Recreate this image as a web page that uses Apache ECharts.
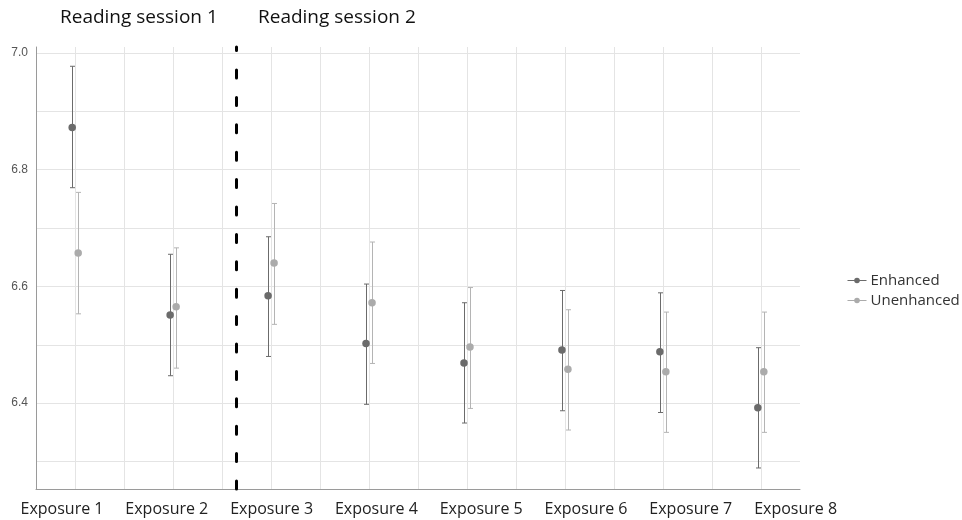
<!DOCTYPE html>
<html>
<head>
<meta charset="utf-8">
<script src="https://cdn.jsdelivr.net/npm/echarts@6/dist/echarts.min.js"></script>
<style>
  html, body { margin: 0; padding: 0; background: #fff; }
  #chart { width: 962px; height: 520px; }
</style>
</head>
<body>
<div id="chart"></div>
<script>
// 数据
var exposures = ['Exposure 1', 'Exposure 2', 'Exposure 3', 'Exposure 4',
  'Exposure 5', 'Exposure 6', 'Exposure 7', 'Exposure 8'];
var sessions = ['Reading session 1', 'Reading session 2'];

var enhMean = [6.872, 6.551, 6.584, 6.502, 6.469, 6.491, 6.488, 6.392];
var enhLow  = [6.769, 6.447, 6.480, 6.398, 6.366, 6.387, 6.384, 6.289];
var enhHigh = [6.977, 6.655, 6.685, 6.604, 6.572, 6.593, 6.589, 6.495];

var unMean = [6.657, 6.565, 6.640, 6.572, 6.496, 6.458, 6.454, 6.454];
var unLow  = [6.553, 6.460, 6.535, 6.468, 6.391, 6.354, 6.350, 6.350];
var unHigh = [6.761, 6.666, 6.742, 6.676, 6.598, 6.560, 6.556, 6.556];

// session 1 / session 2 分界（在 Exposure 2 与 3 之间）
var sessionBreak = 2.64;

var ENH_COLOR = '#6b6b6b';
var UN_COLOR = '#ababab';

function points(mean) {
  return mean.map(function (v, i) { return [i + 1, v]; });
}
function ranges(low, high) {
  return low.map(function (v, i) { return [i + 1, v, high[i]]; });
}

// 误差线
function errorBar(offset, color) {
  return function (params, api) {
    var x = api.value(0);
    var lo = api.coord([x, api.value(1)]);
    var hi = api.coord([x, api.value(2)]);
    var px = Math.round(lo[0] + offset) + 0.5;
    var cap = 2.5;
    var st = { stroke: color, lineWidth: 1 };
    return {
      type: 'group',
      children: [
        { type: 'line', shape: { x1: px, y1: hi[1], x2: px, y2: lo[1] }, style: st },
        { type: 'line', shape: { x1: px - cap, y1: hi[1], x2: px + cap, y2: hi[1] }, style: st },
        { type: 'line', shape: { x1: px - cap, y1: lo[1], x2: px + cap, y2: lo[1] }, style: st }
      ]
    };
  };
}

var chart = echarts.init(document.getElementById('chart'));

var titleStyle = { fontFamily: 'Open Sans', fontSize: 19, fontWeight: 'normal', color: '#111' };

var option = {
  animation: false,
  title: [{
    text: sessions[0],
    left: 55,
    top: 3,
    textStyle: titleStyle
  }, {
    text: sessions[1],
    left: 253,
    top: 3,
    textStyle: titleStyle
  }],
  legend: {
    orient: 'vertical',
    left: 842,
    top: 268,
    itemWidth: 19,
    itemHeight: 7,
    itemGap: 5,
    data: ['Enhanced', 'Unenhanced'],
    lineStyle: { opacity: 1, width: 1 },
    textStyle: { fontFamily: 'Open Sans', fontSize: 15, color: '#333', padding: [0, 0, 0, -1] }
  },
  grid: [
    { left: 36, right: 162, top: 47, bottom: 31 },
    // 只用来放 x 轴标签
    { left: 9.6, right: 114, top: 47, bottom: 31 }
  ],
  xAxis: [{
    type: 'value',
    gridIndex: 0,
    min: 0.6,
    max: 8.4,
    splitNumber: 16,
    axisLine: { show: true, lineStyle: { color: '#9a9a9a', width: 1 } },
    axisTick: { show: false },
    axisLabel: { show: false },
    splitLine: { show: true, showMinLine: false, showMaxLine: false, lineStyle: { color: '#e4e4e4' } }
  }, {
    type: 'category',
    gridIndex: 1,
    data: exposures,
    axisLine: { show: false },
    axisTick: { show: false },
    splitLine: { show: false },
    axisLabel: { interval: 0, margin: 12, fontFamily: 'Open Sans', fontSize: 16, color: '#222' }
  }],
  yAxis: [{
    type: 'value',
    gridIndex: 0,
    min: 6.253,
    max: 7.01,
    splitNumber: 8,
    axisLine: { show: true, lineStyle: { color: '#9a9a9a', width: 1 } },
    axisTick: { show: false },
    axisLabel: {
      margin: 8,
      fontFamily: 'Liberation Sans',
      fontSize: 12,
      color: '#555',
      showMinLabel: false,
      showMaxLabel: false,
      formatter: function (v) {
        var t = Math.round(v * 10);
        if (Math.abs(v * 10 - t) > 1e-6 || t % 2 !== 0) return '';
        return v.toFixed(1);
      }
    },
    splitLine: { show: true, showMinLine: false, showMaxLine: false, lineStyle: { color: '#e4e4e4' } }
  }, {
    type: 'value',
    gridIndex: 1,
    show: false
  }],
  series: [{
    name: 'Enhanced',
    type: 'line',
    data: points(enhMean),
    symbol: 'circle',
    symbolSize: 7.5,
    symbolOffset: [-3, 0],
    itemStyle: { color: ENH_COLOR },
    lineStyle: { opacity: 0, color: ENH_COLOR },
    z: 4,
    markLine: {
      silent: true,
      symbol: ['none', 'none'],
      label: { show: false },
      lineStyle: { color: '#000', width: 3, type: [8, 19.4], cap: 'round' },
      data: [{ xAxis: sessionBreak }]
    }
  }, {
    name: 'Unenhanced',
    type: 'line',
    data: points(unMean),
    symbol: 'circle',
    symbolSize: 7.5,
    symbolOffset: [3, 0],
    itemStyle: { color: UN_COLOR },
    lineStyle: { opacity: 0, color: UN_COLOR },
    z: 4
  }, {
    name: 'Enhanced',
    type: 'custom',
    renderItem: errorBar(-3, ENH_COLOR),
    data: ranges(enhLow, enhHigh),
    encode: { x: 0, y: [1, 2] },
    z: 3
  }, {
    name: 'Unenhanced',
    type: 'custom',
    renderItem: errorBar(3, '#b4b4b4'),
    data: ranges(unLow, unHigh),
    encode: { x: 0, y: [1, 2] },
    z: 3
  }]
};

chart.setOption(option);
</script>
</body>
</html>
